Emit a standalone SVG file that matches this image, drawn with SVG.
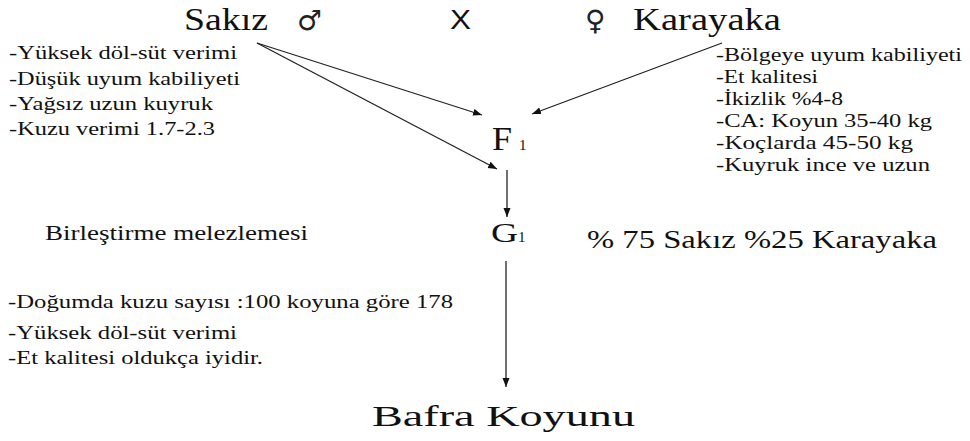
<svg xmlns="http://www.w3.org/2000/svg" width="970" height="441" viewBox="0 0 970 441">
  <defs>
    <marker id="ah" markerUnits="userSpaceOnUse" markerWidth="10" markerHeight="8" refX="9" refY="3.5" orient="auto">
      <path d="M0,0 L9,3.5 L0,7 Z" fill="#111"/>
    </marker>
  </defs>
  <style>
    .link { stroke: #222; stroke-width: 1.3; fill: none; marker-end: url(#ah); }
  </style>
  <rect width="970" height="441" fill="#fff"/>

  <!-- parent breeds -->
  <g id="sakiz" fill="#111">
    <text x="184" y="30" font-family="Liberation Serif, serif" font-size="31" textLength="84" lengthAdjust="spacingAndGlyphs">Sakız</text>
    <text x="297" y="30" font-family="DejaVu Sans, sans-serif" font-size="28" fill="#222">♂</text>
  </g>
  <g id="cross" fill="#111">
    <text x="450" y="29" font-family="Liberation Sans, sans-serif" font-size="27" textLength="21" lengthAdjust="spacingAndGlyphs">X</text>
  </g>
  <g id="karayaka" fill="#111">
    <text x="585" y="30" font-family="DejaVu Sans, sans-serif" font-size="28" fill="#222">♀</text>
    <text x="633" y="30" font-family="Liberation Serif, serif" font-size="31" textLength="148" lengthAdjust="spacingAndGlyphs">Karayaka</text>
  </g>

  <!-- traits of the Sakız breed -->
  <g id="sakiz-traits" fill="#111">
    <text x="9" y="59" font-family="Liberation Serif, serif" font-size="19" textLength="228" lengthAdjust="spacingAndGlyphs">-Yüksek döl-süt verimi</text>
    <text x="9" y="85" font-family="Liberation Serif, serif" font-size="19" textLength="231" lengthAdjust="spacingAndGlyphs">-Düşük uyum kabiliyeti</text>
    <text x="9" y="110" font-family="Liberation Serif, serif" font-size="19" textLength="204" lengthAdjust="spacingAndGlyphs">-Yağsız uzun kuyruk</text>
    <text x="9" y="135" font-family="Liberation Serif, serif" font-size="19" textLength="206" lengthAdjust="spacingAndGlyphs">-Kuzu verimi 1.7-2.3</text>
  </g>

  <!-- traits of the Karayaka breed -->
  <g id="karayaka-traits" fill="#111">
    <text x="716" y="61" font-family="Liberation Serif, serif" font-size="18.5" textLength="246" lengthAdjust="spacingAndGlyphs">-Bölgeye uyum kabiliyeti</text>
    <text x="716" y="83" font-family="Liberation Serif, serif" font-size="18.5" textLength="102" lengthAdjust="spacingAndGlyphs">-Et kalitesi</text>
    <text x="716" y="105" font-family="Liberation Serif, serif" font-size="18.5" textLength="127" lengthAdjust="spacingAndGlyphs">-İkizlik %4-8</text>
    <text x="716" y="127" font-family="Liberation Serif, serif" font-size="18.5" textLength="216" lengthAdjust="spacingAndGlyphs">-CA: Koyun 35-40 kg</text>
    <text x="716" y="149" font-family="Liberation Serif, serif" font-size="18.5" textLength="197" lengthAdjust="spacingAndGlyphs">-Koçlarda 45-50 kg</text>
    <text x="716" y="171" font-family="Liberation Serif, serif" font-size="18.5" textLength="214" lengthAdjust="spacingAndGlyphs">-Kuyruk ince ve uzun</text>
  </g>

  <!-- generations -->
  <g id="f1" fill="#111">
    <text x="492" y="150" font-family="Liberation Serif, serif" font-size="33" textLength="20" lengthAdjust="spacingAndGlyphs">F</text>
    <text x="519" y="150" font-family="Liberation Serif, serif" font-size="15">1</text>
  </g>
  <g id="g1" fill="#111">
    <text x="491" y="242" font-family="Liberation Serif, serif" font-size="27" textLength="27" lengthAdjust="spacingAndGlyphs">G</text>
    <text x="518" y="242" font-family="Liberation Serif, serif" font-size="15">1</text>
  </g>
  <g id="method" fill="#111">
    <text x="45" y="240" font-family="Liberation Serif, serif" font-size="20" textLength="263" lengthAdjust="spacingAndGlyphs">Birleştirme melezlemesi</text>
  </g>
  <g id="ratio" fill="#111">
    <text x="587" y="248" font-family="Liberation Serif, serif" font-size="25" textLength="350" lengthAdjust="spacingAndGlyphs">% 75 Sakız %25 Karayaka</text>
  </g>

  <!-- traits of the resulting breed -->
  <g id="bafra-traits" fill="#111">
    <text x="8" y="308" font-family="Liberation Serif, serif" font-size="19" textLength="445" lengthAdjust="spacingAndGlyphs">-Doğumda kuzu sayısı :100 koyuna göre 178</text>
    <text x="8" y="339" font-family="Liberation Serif, serif" font-size="19" textLength="229" lengthAdjust="spacingAndGlyphs">-Yüksek döl-süt verimi</text>
    <text x="8" y="364" font-family="Liberation Serif, serif" font-size="19" textLength="255" lengthAdjust="spacingAndGlyphs">-Et kalitesi oldukça iyidir.</text>
  </g>
  <g id="bafra" fill="#111">
    <text x="372" y="426" font-family="Liberation Serif, serif" font-size="30" textLength="263" lengthAdjust="spacingAndGlyphs">Bafra  Koyunu</text>
  </g>

  <!-- connectors -->
  <g id="connectors">
    <line class="link" x1="257" y1="43" x2="482" y2="115"/>
    <line class="link" x1="257" y1="43" x2="497" y2="169"/>
    <line class="link" x1="722" y1="43" x2="532" y2="114"/>
    <line class="link" x1="507" y1="170" x2="507" y2="217"/>
    <line class="link" x1="506" y1="261" x2="506" y2="387"/>
  </g>
</svg>
